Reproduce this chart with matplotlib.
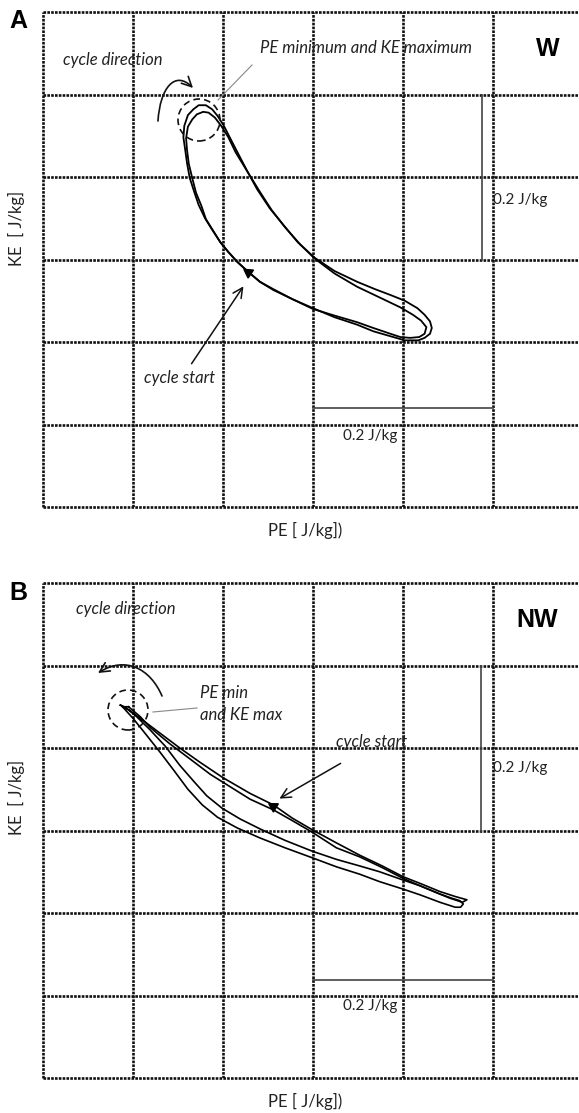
import matplotlib
matplotlib.use('Agg')
import matplotlib.pyplot as plt
from matplotlib.patches import Ellipse, FancyArrowPatch
from matplotlib.path import Path
from matplotlib.lines import Line2D

W, H = 579, 1113
fig = plt.figure(figsize=(W / 100, H / 100), dpi=100)
fig.patch.set_facecolor('white')

# ---------------- data (J/kg) ----------------
grid_ticks = [0.1, 0.2, 0.3, 0.4, 0.5]
scale_bar = 0.2

# Panel A (W): two cycles
a1_pe = [0.228, 0.216, 0.206, 0.197, 0.188, 0.180, 0.173, 0.168, 0.163, 0.160, 0.158, 0.156,
         0.157, 0.161, 0.167, 0.173, 0.181, 0.188, 0.194, 0.201, 0.208, 0.217, 0.227, 0.238,
         0.252, 0.267, 0.283, 0.302, 0.324, 0.349, 0.369, 0.386, 0.402, 0.416, 0.424, 0.430,
         0.432, 0.430, 0.424, 0.417, 0.402, 0.386, 0.367, 0.349, 0.324, 0.300, 0.277, 0.256,
         0.241, 0.228]
a1_ke = [0.285, 0.297, 0.309, 0.321, 0.336, 0.350, 0.366, 0.382, 0.399, 0.417, 0.433, 0.448,
         0.462, 0.475, 0.482, 0.487, 0.487, 0.482, 0.474, 0.462, 0.447, 0.428, 0.407, 0.385,
         0.362, 0.342, 0.321, 0.302, 0.286, 0.273, 0.264, 0.257, 0.250, 0.241, 0.233, 0.225,
         0.217, 0.210, 0.205, 0.202, 0.202, 0.207, 0.213, 0.221, 0.230, 0.241, 0.252, 0.264,
         0.273, 0.285]
a2_pe = [0.228, 0.216, 0.206, 0.197, 0.189, 0.181, 0.176, 0.170, 0.166, 0.162, 0.160, 0.159,
         0.161, 0.166, 0.171, 0.178, 0.184, 0.191, 0.198, 0.206, 0.214, 0.228, 0.241, 0.254,
         0.269, 0.286, 0.302, 0.324, 0.349, 0.374, 0.397, 0.411, 0.420, 0.426, 0.424, 0.418,
         0.408, 0.397, 0.386, 0.367, 0.349, 0.324, 0.300, 0.277, 0.256, 0.241, 0.228]
a2_ke = [0.285, 0.297, 0.309, 0.321, 0.335, 0.349, 0.365, 0.381, 0.398, 0.416, 0.433, 0.447,
         0.461, 0.470, 0.476, 0.479, 0.478, 0.472, 0.462, 0.448, 0.430, 0.405, 0.382, 0.360,
         0.339, 0.318, 0.301, 0.283, 0.267, 0.254, 0.242, 0.233, 0.226, 0.218, 0.210, 0.206,
         0.205, 0.206, 0.210, 0.217, 0.224, 0.232, 0.240, 0.252, 0.263, 0.273, 0.285]
a_start = (0.228, 0.285)

# Panel B (NW): two cycles
b1_pe = [0.086, 0.097, 0.108, 0.130, 0.152, 0.174, 0.200, 0.230, 0.256, 0.277, 0.299, 0.326,
         0.352, 0.377, 0.400, 0.421, 0.441, 0.458, 0.471, 0.466, 0.452, 0.441, 0.419, 0.400,
         0.374, 0.352, 0.326, 0.299, 0.269, 0.241, 0.219, 0.199, 0.182, 0.168, 0.152, 0.136,
         0.119, 0.104, 0.092, 0.086]
b1_ke = [0.452, 0.445, 0.436, 0.418, 0.400, 0.383, 0.364, 0.345, 0.331, 0.315, 0.301, 0.285,
         0.270, 0.257, 0.244, 0.235, 0.226, 0.220, 0.216, 0.213, 0.218, 0.223, 0.233, 0.240,
         0.250, 0.257, 0.265, 0.275, 0.288, 0.302, 0.314, 0.327, 0.342, 0.359, 0.379, 0.402,
         0.422, 0.438, 0.449, 0.452]
b2_pe = [0.095, 0.108, 0.119, 0.141, 0.163, 0.186, 0.208, 0.230, 0.256, 0.277, 0.299, 0.326,
         0.352, 0.377, 0.400, 0.421, 0.441, 0.454, 0.463, 0.467, 0.464, 0.458, 0.441, 0.419,
         0.400, 0.374, 0.352, 0.326, 0.299, 0.269, 0.241, 0.216, 0.194, 0.177, 0.161, 0.146,
         0.130, 0.114, 0.100, 0.090, 0.088, 0.095]
b2_ke = [0.450, 0.438, 0.425, 0.405, 0.387, 0.368, 0.353, 0.338, 0.325, 0.312, 0.298, 0.279,
         0.268, 0.255, 0.242, 0.232, 0.223, 0.218, 0.215, 0.211, 0.207, 0.207, 0.213, 0.222,
         0.229, 0.238, 0.247, 0.256, 0.267, 0.279, 0.291, 0.303, 0.316, 0.331, 0.350, 0.372,
         0.395, 0.417, 0.436, 0.448, 0.450, 0.450]
b_start = (0.256, 0.330)

# ---------------- styles ----------------
GRID_LS = (0, (1.0, 0.45))
GRID_C = '#111111'
GRID_LW = 1.9
TXT_C = '#222222'
FONT = 'Lato'
BOLD_FONT = 'Liberation Sans'


def fxy(px, py):
    return px / W, 1 - py / H


def make_ax(top_px, bottom_px):
    ax = fig.add_axes([43 / W, 1 - bottom_px / H, 540 / W, (bottom_px - top_px) / H])
    ax.set_xlim(0, 0.6)
    ax.set_ylim(0, 0.6)
    ax.set_xticks(grid_ticks)
    ax.set_yticks(grid_ticks)
    ax.tick_params(length=0, labelbottom=False, labelleft=False)
    ax.grid(True, color=GRID_C, lw=GRID_LW, ls=GRID_LS)
    for s in ax.spines.values():
        s.set_linestyle(GRID_LS)
        s.set_linewidth(GRID_LW)
        s.set_color(GRID_C)
        s.set_capstyle('butt')
    ax.set_facecolor('white')
    return ax


def ftext(px, py, s, **kw):
    x, y = fxy(px, py)
    fig.text(x, y, s, **kw)


def farrow(p0, p1, lw=1.1, color='#111111', hl=7, hw=3.5):
    a = FancyArrowPatch(fxy(*p0), fxy(*p1), transform=fig.transFigure,
                        arrowstyle=f'->,head_length={hl / 10},head_width={hw / 10}',
                        lw=lw, color=color, mutation_scale=10)
    fig.add_artist(a)


def fcurve_arrow(p0, c1, c2, p1, lw=1.2, color='#111111', hl=7, hw=3.5):
    path = Path([fxy(*p0), fxy(*c1), fxy(*c2), fxy(*p1)],
                [Path.MOVETO, Path.CURVE4, Path.CURVE4, Path.CURVE4])
    a = FancyArrowPatch(path=path, transform=fig.transFigure,
                        arrowstyle=f'->,head_length={hl / 10},head_width={hw / 10}',
                        lw=lw, color=color, mutation_scale=10)
    fig.add_artist(a)


def fline(p0, p1, lw=0.8, color='#888888'):
    x0, y0 = fxy(*p0)
    x1, y1 = fxy(*p1)
    fig.add_artist(Line2D([x0, x1], [y0, y1], transform=fig.transFigure, lw=lw, color=color))


def circle(px, py, r=21):
    x, y = fxy(px, py)
    e = Ellipse((x, y), 2 * r / W, 2 * r / H, transform=fig.transFigure,
                fill=False, ls=(0, (4, 2.5)), lw=1.2, color='#111111')
    fig.add_artist(e)


italic = dict(family=FONT, style='italic', fontsize=12, color=TXT_C, ha='center', va='center')
regular = dict(family=FONT, fontsize=11, color=TXT_C, ha='center', va='center')
label = dict(family=FONT, fontsize=12, color=TXT_C, ha='center', va='center')
bold = dict(family=BOLD_FONT, fontweight='bold', fontsize=18, color='black', ha='center', va='center')

# ---------------- Panel A ----------------
axA = make_ax(12, 507)
axA.plot(a1_pe, a1_ke, color='black', lw=1.3, solid_joinstyle='round')
axA.plot(a2_pe, a2_ke, color='black', lw=1.3, solid_joinstyle='round')
axA.plot([a_start[0]], [a_start[1]], marker=(3, 0, 56), ms=8, color='black', ls='none')
axA.plot([0.3, 0.3 + scale_bar], [0.12, 0.12], color='#444444', lw=1.2)
axA.plot([0.488, 0.488], [0.3, 0.3 + scale_bar], color='#444444', lw=1.2)

ftext(18, 21, 'A', **bold)
ftext(548, 49, 'W', **bold)
ftext(113, 60, 'cycle direction', **italic)
ftext(366, 48, 'PE minimum and KE maximum', **italic)
ftext(180, 378, 'cycle start', **italic)
ftext(493, 200, '0.2 J/kg', **{**regular, 'ha': 'left'})
ftext(370, 436, '0.2 J/kg', **regular)
ftext(305, 530, 'PE [ J/kg])', **label)
ftext(16, 228, 'KE  [ J/kg]', rotation=90, **label)
circle(199, 120, 21)
fline((218, 100), (252, 65))
fcurve_arrow((158, 121), (160, 88), (175, 70), (193, 88))
farrow((190, 366), (245, 284))

# ---------------- Panel B ----------------
axB = make_ax(583, 1078)
axB.plot(b1_pe, b1_ke, color='black', lw=1.2, solid_joinstyle='round')
axB.plot(b2_pe, b2_ke, color='black', lw=1.2, solid_joinstyle='round')
axB.plot([b_start[0]], [b_start[1]], marker=(3, 0, 59), ms=8, color='black', ls='none')
axB.plot([0.3, 0.3 + scale_bar], [0.119, 0.119], color='#444444', lw=1.2)
axB.plot([0.487, 0.487], [0.3, 0.3 + scale_bar], color='#444444', lw=1.2)

ftext(18, 593, 'B', **bold)
ftext(537, 620, 'NW', **bold)
ftext(126, 609, 'cycle direction', **italic)
ftext(200, 693, 'PE min', **{**italic, 'ha': 'left'})
ftext(200, 715, 'and KE max', **{**italic, 'ha': 'left'})
ftext(372, 742, 'cycle start', **italic)
ftext(493, 768, '0.2 J/kg', **{**regular, 'ha': 'left'})
ftext(370, 1006, '0.2 J/kg', **regular)
ftext(305, 1101, 'PE [ J/kg])', **label)
ftext(16, 797, 'KE  [ J/kg]', rotation=90, **label)
circle(128, 710, 20)
fline((153, 712), (197, 708))
fcurve_arrow((162, 696), (150, 668), (125, 656), (98, 673))
farrow((343, 762), (277, 800))

fig.savefig('out.png', dpi=100, facecolor='white')
